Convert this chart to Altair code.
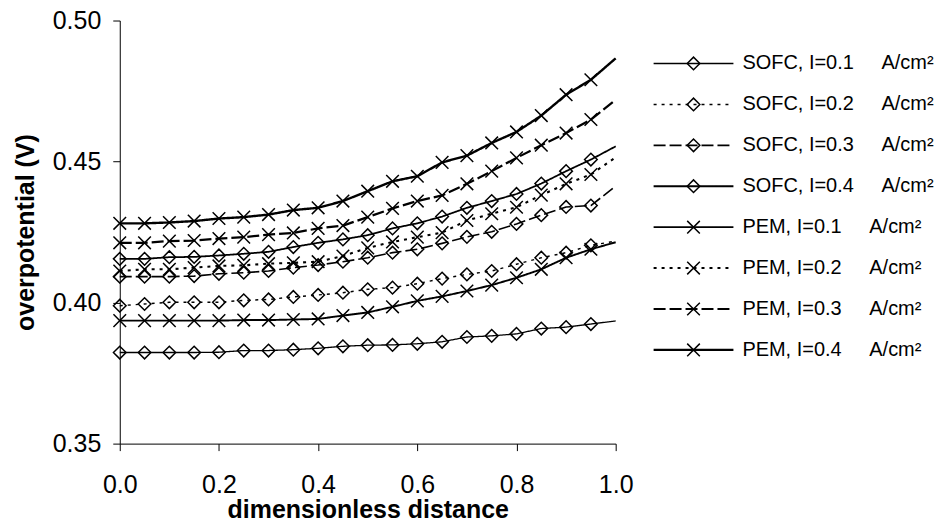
import altair as alt
import pandas as pd

# ---- data ----
x_pos = [0.00, 0.05, 0.10, 0.15, 0.20, 0.25, 0.30, 0.35, 0.40, 0.45, 0.50,
         0.55, 0.60, 0.65, 0.70, 0.75, 0.80, 0.85, 0.90, 0.95, 1.00]

sofc_01 = [0.3823, 0.3823, 0.3823, 0.3823, 0.3824, 0.3830, 0.3830, 0.3833, 0.3838, 0.3845, 0.3849,
           0.3850, 0.3854, 0.3861, 0.3878, 0.3882, 0.3889, 0.3908, 0.3913, 0.3924, 0.3935]
sofc_02 = [0.3989, 0.3995, 0.4001, 0.4001, 0.4001, 0.4008, 0.4011, 0.4020, 0.4027, 0.4035, 0.4047,
           0.4053, 0.4067, 0.4085, 0.4100, 0.4112, 0.4136, 0.4159, 0.4177, 0.4203, 0.4218]
sofc_03 = [0.4092, 0.4092, 0.4092, 0.4094, 0.4102, 0.4106, 0.4112, 0.4124, 0.4133, 0.4145, 0.4159,
           0.4177, 0.4189, 0.4210, 0.4233, 0.4251, 0.4279, 0.4310, 0.4339, 0.4344, 0.4413]
sofc_04 = [0.4155, 0.4155, 0.4161, 0.4162, 0.4167, 0.4173, 0.4180, 0.4197, 0.4212, 0.4224, 0.4239,
           0.4263, 0.4281, 0.4305, 0.4336, 0.4360, 0.4385, 0.4422, 0.4466, 0.4507, 0.4554]
pem_01 = [0.3936, 0.3936, 0.3936, 0.3936, 0.3936, 0.3938, 0.3938, 0.3940, 0.3942, 0.3954, 0.3965,
          0.3985, 0.4006, 0.4022, 0.4041, 0.4062, 0.4088, 0.4118, 0.4159, 0.4189, 0.4214]
pem_02 = [0.4112, 0.4118, 0.4118, 0.4124, 0.4130, 0.4132, 0.4138, 0.4141, 0.4145, 0.4165, 0.4194,
          0.4215, 0.4232, 0.4248, 0.4291, 0.4315, 0.4338, 0.4381, 0.4421, 0.4454, 0.4515]
pem_03 = [0.4212, 0.4212, 0.4218, 0.4220, 0.4227, 0.4232, 0.4241, 0.4247, 0.4263, 0.4273, 0.4303,
          0.4334, 0.4360, 0.4380, 0.4421, 0.4466, 0.4513, 0.4558, 0.4601, 0.4649, 0.4719]
pem_04 = [0.4281, 0.4281, 0.4284, 0.4289, 0.4298, 0.4303, 0.4312, 0.4328, 0.4336, 0.4360, 0.4395,
          0.4430, 0.4448, 0.4497, 0.4521, 0.4566, 0.4605, 0.4663, 0.4737, 0.4790, 0.4866]

series_names = ["SOFC, I=0.1", "SOFC, I=0.2", "SOFC, I=0.3", "SOFC, I=0.4",
                "PEM, I=0.1", "PEM, I=0.2", "PEM, I=0.3", "PEM, I=0.4"]
series_values = [sofc_01, sofc_02, sofc_03, sofc_04, pem_01, pem_02, pem_03, pem_04]
unit_label = "A/cm\u00b2"

x_ticks = [0.0, 0.2, 0.4, 0.6, 0.8, 1.0]
y_ticks = [0.35, 0.40, 0.45, 0.50]

# ---- styles ----
FONT = "Liberation Sans"
X_PATH = "M-1,-1L1,1M-1,1L1,-1"
dash_range = [[1, 0], [3, 5], [12, 4], [1, 0], [1, 0], [3, 5], [12, 4], [1, 0]]
width_range = [1.3, 2.4, 2.5, 3.8, 1.3, 2.0, 2.3, 3.8]
shape_range = ["diamond"] * 4 + [X_PATH] * 4

rows = []
for name, vals in zip(series_names, series_values):
    for xv, yv in zip(x_pos, vals):
        rows.append({"series": name, "x": xv, "v": yv})
df = pd.DataFrame(rows)

dash_enc = alt.StrokeDash("series:N", scale=alt.Scale(domain=series_names, range=dash_range), legend=None)
width_enc = alt.StrokeWidth("series:O", scale=alt.Scale(domain=series_names, range=width_range), legend=None)
shape_enc = alt.Shape("series:N", scale=alt.Scale(domain=series_names, range=shape_range), legend=None)

x_enc = alt.X("x:Q", scale=alt.Scale(domain=[0, 1], nice=False),
              axis=alt.Axis(values=x_ticks, format=".1f", title="dimensionless distance",
                            labelFontSize=25, titleFontSize=25, titleFontWeight="bold",
                            tickSize=7, labelPadding=22, titlePadding=0, labelFlush=False))
y_enc = alt.Y("v:Q", scale=alt.Scale(domain=[0.35, 0.50], nice=False, zero=False),
              axis=alt.Axis(values=y_ticks, format=".2f", title="overpotential (V)",
                            labelFontSize=25, titleFontSize=25, titleFontWeight="bold",
                            tickSize=7, labelPadding=12, titlePadding=14, labelFlush=False))

base = alt.Chart(df)
lines = base.mark_line(color="black", strokeCap="butt", strokeJoin="round").encode(
    x=x_enc, y=y_enc, strokeDash=dash_enc, strokeWidth=width_enc, order="x:Q")
points = base.transform_filter("datum.x < 0.99").mark_point(
    color="black", filled=False, strokeWidth=1.5, size=160, opacity=1).encode(
    x="x:Q", y="v:Q", shape=shape_enc)

main = alt.layer(lines, points).properties(width=497, height=424)

# ---- legend panel ----
leg = pd.DataFrame({
    "series": series_names,
    "row": list(range(len(series_names))),
    "label": [n + "\u00a0" * 5 + unit_label for n in series_names],
})
leg["x0"] = 0
leg["x1"] = 80
leg["xm"] = 40
leg["xt"] = 89

lx = alt.Scale(domain=[0, 280], nice=False)
ly = alt.Scale(domain=[-1.05, 9.29], reverse=True, nice=False, zero=False)
lbase = alt.Chart(leg)
leg_lines = lbase.mark_rule(color="black", strokeCap="butt").encode(
    x=alt.X("x0:Q", scale=lx, axis=None), x2="x1:Q",
    y=alt.Y("row:Q", scale=ly, axis=None),
    strokeDash=dash_enc, strokeWidth=width_enc)
leg_pts = lbase.mark_point(color="black", filled=False, strokeWidth=1.5, size=160, opacity=1).encode(
    x=alt.X("xm:Q", scale=lx, axis=None), y=alt.Y("row:Q", scale=ly, axis=None), shape=shape_enc)
leg_txt = lbase.mark_text(align="left", baseline="middle", fontSize=20, font=FONT, color="black").encode(
    x=alt.X("xt:Q", scale=lx, axis=None), y=alt.Y("row:Q", scale=ly, axis=None), text="label:N")
legend = alt.layer(leg_lines, leg_pts, leg_txt).properties(width=280, height=424)

chart = alt.hconcat(main, legend, spacing=38, bounds="flush").properties(
    padding={"left": 5, "top": 0, "right": 0, "bottom": 0},
    background="white",
).configure_view(stroke=None).configure_axis(
    labelFont=FONT, titleFont=FONT, labelColor="black", titleColor="black",
    domainColor="black", tickColor="black", grid=False, domainWidth=1, tickWidth=1,
)

chart.save("out.html", embed_options={"renderer": "svg", "actions": False})
